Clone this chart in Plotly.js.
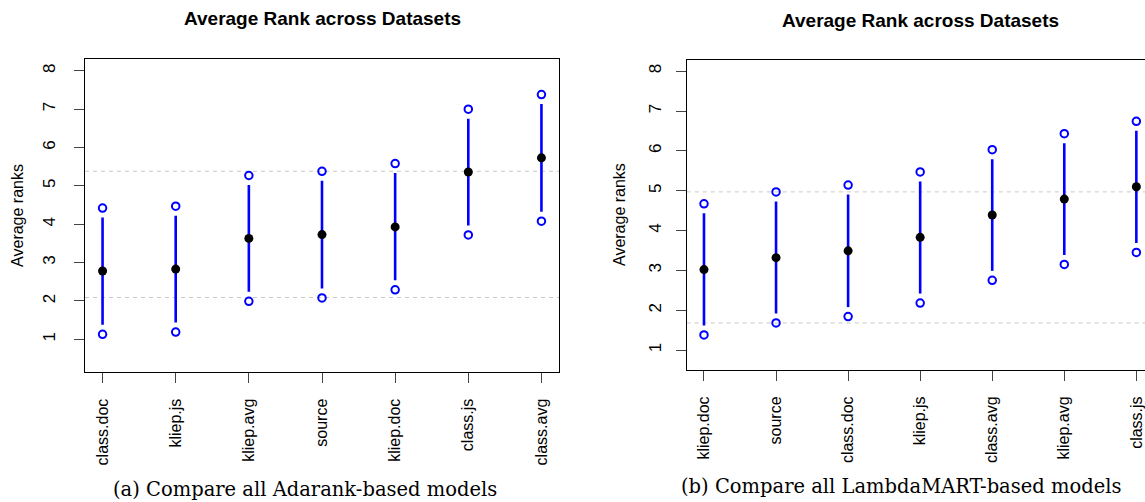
<!DOCTYPE html>
<html>
<head>
<meta charset="utf-8">
<script src="https://cdn.plot.ly/plotly-3.0.1.min.js"></script>
<style>
html,body{margin:0;padding:0;background:#fff;}
#chart{width:1145px;height:502px;}
</style>
</head>
<body>
<div id="chart"></div>
<script>
// ---- Data ----
const chartTitle = 'Average Rank across Datasets';
const yTitle = 'Average ranks';
const yTicks = [1, 2, 3, 4, 5, 6, 7, 8];

// (a) Adarank-based models
const catsA  = ['class.doc', 'kliep.js', 'kliep.avg', 'source', 'kliep.doc', 'class.js', 'class.avg'];
const meanA  = [2.78, 2.83, 3.63, 3.73, 3.93, 5.36, 5.73];
const upperA = [4.42, 4.47, 5.27, 5.38, 5.58, 7.00, 7.38];
const lowerA = [1.13, 1.19, 1.99, 2.08, 2.29, 3.72, 4.08];
const refA   = [2.09, 5.38];
const captionA = '(a) Compare all Adarank-based models';

// (b) LambdaMART-based models
const catsB  = ['kliep.doc', 'source', 'class.doc', 'kliep.js', 'class.avg', 'kliep.avg', 'class.js'];
const meanB  = [3.02, 3.32, 3.49, 3.83, 4.39, 4.79, 5.10];
const upperB = [4.67, 4.97, 5.14, 5.47, 6.03, 6.43, 6.74];
const lowerB = [1.38, 1.68, 1.84, 2.18, 2.75, 3.15, 3.45];
const refB   = [1.68, 4.97];
const captionB = '(b) Compare all LambdaMART-based models';

// ---- Layout geometry (pixels) ----
const W = 1145, H = 502;
const panelA = {x0: 85, x1: 559, y0: 58.5, y1: 372.3, yr: [0.14, 8.32], xr: [-0.24, 6.24]};
const panelB = {x0: 686.7, x1: 1145, y0: 60, y1: 370, yr: [0.5, 8.28], xr: [-0.24, 6.12]};
const gapPx = 9.5;

const blue = '#0000ff';
const sans = 'Liberation Sans, Arial, Helvetica, sans-serif';

function segs(cats, lo, hi, p) {
  const gap = gapPx * (p.yr[1] - p.yr[0]) / (p.y1 - p.y0);
  const xs = [], ys = [];
  cats.forEach((c, i) => {
    xs.push(c, c, null);
    ys.push(lo[i] + gap, hi[i] - gap, null);
  });
  return {x: xs, y: ys};
}

function panelTraces(cats, mean, lo, hi, p, xa, ya) {
  const s = segs(cats, lo, hi, p);
  return [
    {type: 'scatter', mode: 'lines', x: s.x, y: s.y, xaxis: xa, yaxis: ya,
     line: {color: blue, width: 2.6}, hoverinfo: 'skip', showlegend: false},
    {type: 'scatter', mode: 'markers', x: cats, y: mean, xaxis: xa, yaxis: ya,
     marker: {color: '#000', size: 9, symbol: 'circle'}, showlegend: false},
    {type: 'scatter', mode: 'markers', x: cats, y: hi, xaxis: xa, yaxis: ya,
     marker: {color: blue, size: 7.5, symbol: 'circle-open', line: {width: 2, color: blue}}, showlegend: false},
    {type: 'scatter', mode: 'markers', x: cats, y: lo, xaxis: xa, yaxis: ya,
     marker: {color: blue, size: 7.5, symbol: 'circle-open', line: {width: 2, color: blue}}, showlegend: false}
  ];
}

const traces = [].concat(
  panelTraces(catsA, meanA, lowerA, upperA, panelA, 'x', 'y'),
  panelTraces(catsB, meanB, lowerB, upperB, panelB, 'x2', 'y2')
);

function xAxis(cats, p, mirror, anchor) {
  return {
    type: 'category', categoryorder: 'array', categoryarray: cats,
    domain: [p.x0 / W, p.x1 / W], range: p.xr, anchor: anchor,
    showgrid: false, zeroline: false, showline: true, linecolor: '#000', linewidth: 1, mirror: mirror,
    ticks: 'outside', ticklen: 10, tickwidth: 1, tickcolor: '#444',
    tickangle: -90, tickfont: {family: sans, size: 16, color: '#000'},
    ticklabelstandoff: 9, automargin: false, fixedrange: true
  };
}
function yAxis(p, mirror, anchor, standoff) {
  return {
    domain: [(H - p.y1) / H, (H - p.y0) / H], range: p.yr, anchor: anchor,
    tickmode: 'array', tickvals: yTicks, ticktext: yTicks.map(String),
    showgrid: false, zeroline: false, showline: true, linecolor: '#000', linewidth: 1, mirror: mirror,
    ticks: 'outside', ticklen: 10, tickwidth: 1, tickcolor: '#444',
    tickangle: -90, tickfont: {family: sans, size: 17, color: '#000'},
    ticklabelstandoff: standoff, automargin: false, fixedrange: true
  };
}

const shapes = [];
refA.forEach(v => shapes.push({type: 'line', xref: 'x domain', yref: 'y', x0: 0, x1: 1, y0: v, y1: v,
  line: {color: '#c8c8c8', width: 1, dash: '4px,4px'}, layer: 'below'}));
refB.forEach(v => shapes.push({type: 'line', xref: 'x2 domain', yref: 'y2', x0: 0, x1: 1, y0: v, y1: v,
  line: {color: '#c8c8c8', width: 1, dash: '4px,4px'}, layer: 'below'}));

function ann(text, px, py, font, extra) {
  return Object.assign({text: text, xref: 'paper', yref: 'paper', x: px / W, y: (H - py) / H,
    xanchor: 'center', yanchor: 'middle', showarrow: false, font: font}, extra || {});
}
const titleFont = {family: sans, size: 19, color: '#000', weight: 'bold'};
const axFont = {family: sans, size: 16, color: '#000'};
const capFont = {family: 'DejaVu Serif, serif', size: 19.5, color: '#000'};

const annotations = [
  ann('<b>' + chartTitle + '</b>', 322, 18.5, titleFont),
  ann('<b>' + chartTitle + '</b>', 920.3, 20.7, titleFont),
  ann(yTitle, 17.5, 215.4, axFont, {textangle: -90}),
  ann(yTitle, 620, 215, axFont, {textangle: -90}),
  ann(captionA, 304.5, H, capFont, {yanchor: 'bottom', borderpad: 0}),
  ann(captionB, 901, H - 3, capFont, {yanchor: 'bottom', borderpad: 0})
];

const layout = {
  width: W, height: H,
  margin: {l: 0, r: 0, t: 0, b: 0},
  paper_bgcolor: '#fff', plot_bgcolor: '#fff',
  showlegend: false,
  xaxis: xAxis(catsA, panelA, true, 'y'),
  yaxis: yAxis(panelA, true, 'x', 12),
  xaxis2: xAxis(catsB, panelB, true, 'y2'),
  yaxis2: yAxis(panelB, false, 'x2', 8),
  shapes: shapes,
  annotations: annotations
};

Plotly.newPlot('chart', traces, layout, {displayModeBar: false, staticPlot: true});
</script>
</body>
</html>
